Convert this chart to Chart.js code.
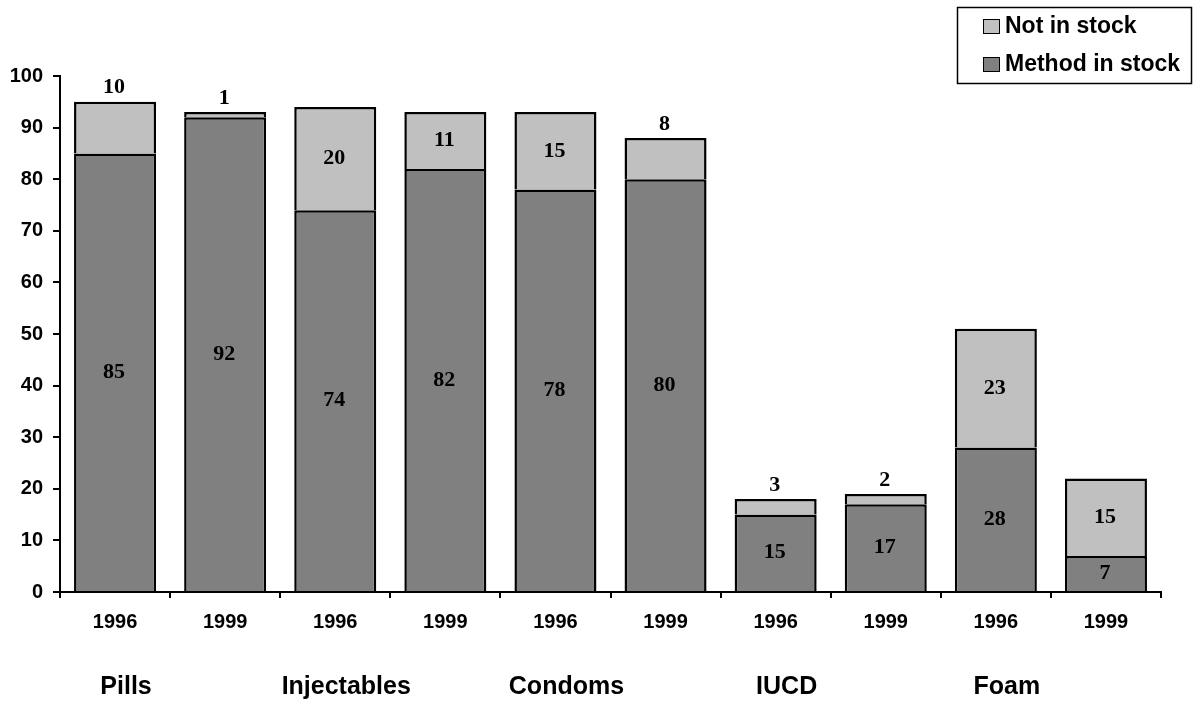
<!DOCTYPE html>
<html>
<head>
<meta charset="utf-8">
<script src="https://cdn.jsdelivr.net/npm/chart.js@4/dist/chart.umd.min.js"></script>
<style>
  body { margin: 0; background: #fff; }
</style>
</head>
<body>
<canvas id="myChart" width="1202" height="702"></canvas>
<script>
// dados
const anos = ['1996', '1999', '1996', '1999', '1996', '1999', '1996', '1999', '1996', '1999'];
const metodos = ['Pills', 'Injectables', 'Condoms', 'IUCD', 'Foam'];
const emEstoque = [85, 92, 74, 82, 78, 80, 15, 17, 28, 7];
const semEstoque = [10, 1, 20, 11, 15, 8, 3, 2, 23, 15];
const ticksY = [0, 10, 20, 30, 40, 50, 60, 70, 80, 90, 100];

Chart.defaults.font.family = '"Liberation Sans", Arial, sans-serif';
Chart.defaults.font.weight = 'bold';
Chart.defaults.color = '#000';

// numeros dentro/acima das barras
const rotulos = {
  id: 'rotulos',
  afterDatasetsDraw(chart) {
    const c = chart.ctx;
    c.save();
    c.font = 'bold 22px "Liberation Serif", "Times New Roman", serif';
    c.fillStyle = '#000';
    c.textAlign = 'center';
    c.textBaseline = 'middle';
    chart.data.datasets.forEach((ds, i) => {
      chart.getDatasetMeta(i).data.forEach((bar, j) => {
        const v = ds.data[j];
        let y = (bar.y + bar.base) / 2;
        if (i == 1 && v <= 10) {
          y = bar.y - 14;
        }
        c.fillText(v, bar.x - 1, y);
      });
    });
    c.restore();
  }
};

// nomes dos metodos + legenda com caixa
const extras = {
  id: 'extras',
  afterDraw(chart) {
    const c = chart.ctx;
    const x = chart.scales.x;
    c.save();
    c.fillStyle = '#000';
    c.textBaseline = 'middle';
    c.textAlign = 'center';
    c.font = 'bold 25px "Liberation Sans", Arial, sans-serif';
    metodos.forEach((m, k) => {
      c.fillText(m, x.getPixelForValue(k * 2) + 11, 687);
    });

    // legenda
    c.strokeStyle = '#000';
    c.lineWidth = 1.5;
    c.strokeRect(957.5, 7.5, 234, 76);
    const itens = [chart.data.datasets[1], chart.data.datasets[0]];
    c.textAlign = 'left';
    c.font = 'bold 23px "Liberation Sans", Arial, sans-serif';
    itens.forEach((ds, k) => {
      const cy = 26 + k * 38;
      c.fillStyle = ds.backgroundColor;
      c.fillRect(983, cy - 7, 16, 14);
      c.lineWidth = 1;
      c.strokeRect(983.5, cy - 6.5, 16, 14);
      c.fillStyle = '#000';
      c.fillText(ds.label, 1005, cy + 1);
    });
    c.restore();
  }
};

const ctx = document.getElementById('myChart').getContext('2d');

let grafico = new Chart(ctx, {
  type: 'bar',
  data: {
    labels: anos,
    datasets: [
      {
        label: 'Method in stock',
        data: emEstoque,
        backgroundColor: '#808080',
        borderColor: '#000',
        borderWidth: 2.5
      },
      {
        label: 'Not in stock',
        data: semEstoque,
        backgroundColor: '#c0c0c0',
        borderColor: '#000',
        borderWidth: 2.5
      }
    ]
  },
  options: {
    responsive: false,
    animation: false,
    layout: {
      padding: { top: 76, right: 41, left: 0, bottom: 0 }
    },
    datasets: {
      bar: { barPercentage: 0.745, categoryPercentage: 1 }
    },
    scales: {
      x: {
        stacked: true,
        grid: { offset: true, drawOnChartArea: false, tickLength: 6, color: '#000', lineWidth: 2 },
        border: { display: true, color: '#000', width: 2 },
        ticks: { font: { size: 20, weight: 'bold' }, padding: 12, maxRotation: 0 },
        afterFit(s) { s.height = 110; }
      },
      y: {
        stacked: true,
        min: 0,
        max: 100,
        afterBuildTicks(s) { s.ticks = ticksY.map(v => ({ value: v })); },
        grid: { drawOnChartArea: false, tickLength: 7, color: '#000', lineWidth: 2 },
        border: { display: true, color: '#000', width: 2 },
        ticks: { font: { size: 20, weight: 'bold' }, padding: 10 },
        afterFit(s) { s.width = 60; }
      }
    },
    plugins: {
      legend: { display: false },
      tooltip: { enabled: false }
    }
  },
  plugins: [rotulos, extras]
});
</script>
</body>
</html>
